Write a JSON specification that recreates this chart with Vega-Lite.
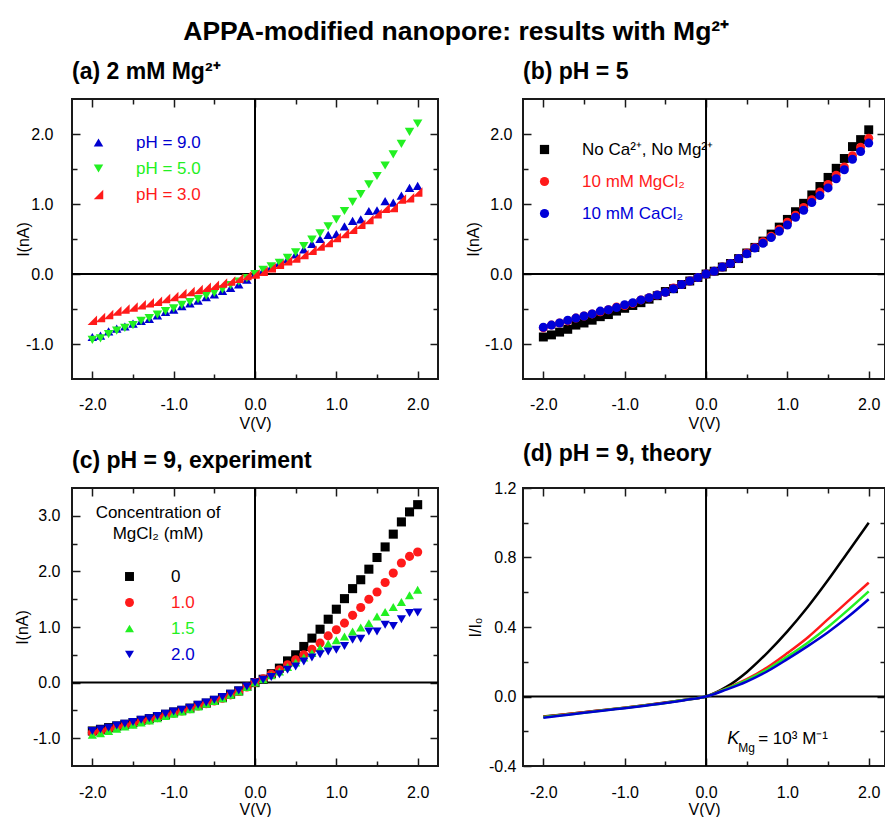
{
"$schema": "https://vega.github.io/schema/vega-lite/v6.json",
"padding": {"left": 13, "top": 18, "right": 0, "bottom": 0},
"title": {"text": "APPA-modified nanopore: results with Mg²⁺", "fontSize": 26.5, "fontWeight": "bold", "anchor": "middle", "offset": 15, "dx": 6},
"config": {
 "font": "Liberation Sans",
 "view": {"stroke": "#1a1a1a", "strokeWidth": 2},
 "axis": {"grid": false, "domain": false, "labelFontSize": 16, "labelColor": "#000", "tickColor": "#1a1a1a", "tickWidth": 1.5, "titleFontSize": 16, "titleFontWeight": "normal", "titleColor": "#000", "labelFlush": false, "labelOverlap": false},
 "legend": {"padding": 0, "labelFontSize": 17, "symbolStrokeWidth": 0, "labelLimit": 400, "orient": "none"},
 "title": {"color": "#000"}
},
"datasets": {
"a": [
{"V":-2,"I":-0.90,"s":"pH = 9.0"},{"V":-1.9,"I":-0.88,"s":"pH = 9.0"},{"V":-1.8,"I":-0.82,"s":"pH = 9.0"},{"V":-1.7,"I":-0.78,"s":"pH = 9.0"},{"V":-1.6,"I":-0.75,"s":"pH = 9.0"},{"V":-1.5,"I":-0.71,"s":"pH = 9.0"},{"V":-1.4,"I":-0.67,"s":"pH = 9.0"},{"V":-1.3,"I":-0.64,"s":"pH = 9.0"},{"V":-1.2,"I":-0.59,"s":"pH = 9.0"},{"V":-1.1,"I":-0.54,"s":"pH = 9.0"},{"V":-1,"I":-0.51,"s":"pH = 9.0"},{"V":-0.9,"I":-0.46,"s":"pH = 9.0"},{"V":-0.8,"I":-0.42,"s":"pH = 9.0"},{"V":-0.7,"I":-0.38,"s":"pH = 9.0"},{"V":-0.6,"I":-0.33,"s":"pH = 9.0"},{"V":-0.5,"I":-0.29,"s":"pH = 9.0"},{"V":-0.4,"I":-0.24,"s":"pH = 9.0"},{"V":-0.3,"I":-0.20,"s":"pH = 9.0"},{"V":-0.2,"I":-0.15,"s":"pH = 9.0"},{"V":-0.1,"I":-0.08,"s":"pH = 9.0"},{"V":0,"I":0,"s":"pH = 9.0"},{"V":0.1,"I":0.05,"s":"pH = 9.0"},{"V":0.2,"I":0.10,"s":"pH = 9.0"},{"V":0.3,"I":0.16,"s":"pH = 9.0"},{"V":0.4,"I":0.21,"s":"pH = 9.0"},{"V":0.5,"I":0.28,"s":"pH = 9.0"},{"V":0.6,"I":0.35,"s":"pH = 9.0"},{"V":0.7,"I":0.43,"s":"pH = 9.0"},{"V":0.8,"I":0.50,"s":"pH = 9.0"},{"V":0.9,"I":0.56,"s":"pH = 9.0"},{"V":1,"I":0.57,"s":"pH = 9.0"},{"V":1.1,"I":0.68,"s":"pH = 9.0"},{"V":1.2,"I":0.76,"s":"pH = 9.0"},{"V":1.3,"I":0.78,"s":"pH = 9.0"},{"V":1.4,"I":0.90,"s":"pH = 9.0"},{"V":1.5,"I":0.91,"s":"pH = 9.0"},{"V":1.6,"I":1.04,"s":"pH = 9.0"},{"V":1.7,"I":1.02,"s":"pH = 9.0"},{"V":1.8,"I":1.12,"s":"pH = 9.0"},{"V":1.9,"I":1.23,"s":"pH = 9.0"},{"V":2,"I":1.26,"s":"pH = 9.0"},
{"V":-2,"I":-0.94,"s":"pH = 5.0"},{"V":-1.9,"I":-0.92,"s":"pH = 5.0"},{"V":-1.8,"I":-0.86,"s":"pH = 5.0"},{"V":-1.7,"I":-0.81,"s":"pH = 5.0"},{"V":-1.6,"I":-0.77,"s":"pH = 5.0"},{"V":-1.5,"I":-0.73,"s":"pH = 5.0"},{"V":-1.4,"I":-0.67,"s":"pH = 5.0"},{"V":-1.3,"I":-0.63,"s":"pH = 5.0"},{"V":-1.2,"I":-0.58,"s":"pH = 5.0"},{"V":-1.1,"I":-0.53,"s":"pH = 5.0"},{"V":-1,"I":-0.49,"s":"pH = 5.0"},{"V":-0.9,"I":-0.44,"s":"pH = 5.0"},{"V":-0.8,"I":-0.40,"s":"pH = 5.0"},{"V":-0.7,"I":-0.36,"s":"pH = 5.0"},{"V":-0.6,"I":-0.31,"s":"pH = 5.0"},{"V":-0.5,"I":-0.27,"s":"pH = 5.0"},{"V":-0.4,"I":-0.22,"s":"pH = 5.0"},{"V":-0.3,"I":-0.16,"s":"pH = 5.0"},{"V":-0.2,"I":-0.11,"s":"pH = 5.0"},{"V":-0.1,"I":-0.06,"s":"pH = 5.0"},{"V":0,"I":0,"s":"pH = 5.0"},{"V":0.1,"I":0.06,"s":"pH = 5.0"},{"V":0.2,"I":0.11,"s":"pH = 5.0"},{"V":0.3,"I":0.16,"s":"pH = 5.0"},{"V":0.4,"I":0.23,"s":"pH = 5.0"},{"V":0.5,"I":0.31,"s":"pH = 5.0"},{"V":0.6,"I":0.40,"s":"pH = 5.0"},{"V":0.7,"I":0.49,"s":"pH = 5.0"},{"V":0.8,"I":0.58,"s":"pH = 5.0"},{"V":0.9,"I":0.68,"s":"pH = 5.0"},{"V":1,"I":0.78,"s":"pH = 5.0"},{"V":1.1,"I":0.90,"s":"pH = 5.0"},{"V":1.2,"I":1.03,"s":"pH = 5.0"},{"V":1.3,"I":1.14,"s":"pH = 5.0"},{"V":1.4,"I":1.28,"s":"pH = 5.0"},{"V":1.5,"I":1.40,"s":"pH = 5.0"},{"V":1.6,"I":1.55,"s":"pH = 5.0"},{"V":1.7,"I":1.71,"s":"pH = 5.0"},{"V":1.8,"I":1.86,"s":"pH = 5.0"},{"V":1.9,"I":2.03,"s":"pH = 5.0"},{"V":2,"I":2.15,"s":"pH = 5.0"},
{"V":-2,"I":-0.66,"s":"pH = 3.0"},{"V":-1.9,"I":-0.62,"s":"pH = 3.0"},{"V":-1.8,"I":-0.58,"s":"pH = 3.0"},{"V":-1.7,"I":-0.53,"s":"pH = 3.0"},{"V":-1.6,"I":-0.50,"s":"pH = 3.0"},{"V":-1.5,"I":-0.47,"s":"pH = 3.0"},{"V":-1.4,"I":-0.44,"s":"pH = 3.0"},{"V":-1.3,"I":-0.41,"s":"pH = 3.0"},{"V":-1.2,"I":-0.39,"s":"pH = 3.0"},{"V":-1.1,"I":-0.35,"s":"pH = 3.0"},{"V":-1,"I":-0.32,"s":"pH = 3.0"},{"V":-0.9,"I":-0.28,"s":"pH = 3.0"},{"V":-0.8,"I":-0.25,"s":"pH = 3.0"},{"V":-0.7,"I":-0.22,"s":"pH = 3.0"},{"V":-0.6,"I":-0.19,"s":"pH = 3.0"},{"V":-0.5,"I":-0.16,"s":"pH = 3.0"},{"V":-0.4,"I":-0.13,"s":"pH = 3.0"},{"V":-0.3,"I":-0.10,"s":"pH = 3.0"},{"V":-0.2,"I":-0.06,"s":"pH = 3.0"},{"V":-0.1,"I":-0.02,"s":"pH = 3.0"},{"V":0,"I":0,"s":"pH = 3.0"},{"V":0.1,"I":0.04,"s":"pH = 3.0"},{"V":0.2,"I":0.09,"s":"pH = 3.0"},{"V":0.3,"I":0.14,"s":"pH = 3.0"},{"V":0.4,"I":0.19,"s":"pH = 3.0"},{"V":0.5,"I":0.23,"s":"pH = 3.0"},{"V":0.6,"I":0.28,"s":"pH = 3.0"},{"V":0.7,"I":0.34,"s":"pH = 3.0"},{"V":0.8,"I":0.40,"s":"pH = 3.0"},{"V":0.9,"I":0.45,"s":"pH = 3.0"},{"V":1,"I":0.52,"s":"pH = 3.0"},{"V":1.1,"I":0.58,"s":"pH = 3.0"},{"V":1.2,"I":0.64,"s":"pH = 3.0"},{"V":1.3,"I":0.71,"s":"pH = 3.0"},{"V":1.4,"I":0.78,"s":"pH = 3.0"},{"V":1.5,"I":0.86,"s":"pH = 3.0"},{"V":1.6,"I":0.94,"s":"pH = 3.0"},{"V":1.7,"I":0.95,"s":"pH = 3.0"},{"V":1.8,"I":1.07,"s":"pH = 3.0"},{"V":1.9,"I":1.09,"s":"pH = 3.0"},{"V":2,"I":1.17,"s":"pH = 3.0"}
],
"b": [
{"V":-2,"I":-0.90,"s":"No Ca²⁺, No Mg²⁺"},{"V":-1.9,"I":-0.87,"s":"No Ca²⁺, No Mg²⁺"},{"V":-1.8,"I":-0.83,"s":"No Ca²⁺, No Mg²⁺"},{"V":-1.7,"I":-0.79,"s":"No Ca²⁺, No Mg²⁺"},{"V":-1.6,"I":-0.73,"s":"No Ca²⁺, No Mg²⁺"},{"V":-1.5,"I":-0.70,"s":"No Ca²⁺, No Mg²⁺"},{"V":-1.4,"I":-0.66,"s":"No Ca²⁺, No Mg²⁺"},{"V":-1.3,"I":-0.61,"s":"No Ca²⁺, No Mg²⁺"},{"V":-1.2,"I":-0.58,"s":"No Ca²⁺, No Mg²⁺"},{"V":-1.1,"I":-0.53,"s":"No Ca²⁺, No Mg²⁺"},{"V":-1,"I":-0.49,"s":"No Ca²⁺, No Mg²⁺"},{"V":-0.9,"I":-0.45,"s":"No Ca²⁺, No Mg²⁺"},{"V":-0.8,"I":-0.41,"s":"No Ca²⁺, No Mg²⁺"},{"V":-0.7,"I":-0.36,"s":"No Ca²⁺, No Mg²⁺"},{"V":-0.6,"I":-0.31,"s":"No Ca²⁺, No Mg²⁺"},{"V":-0.5,"I":-0.25,"s":"No Ca²⁺, No Mg²⁺"},{"V":-0.4,"I":-0.21,"s":"No Ca²⁺, No Mg²⁺"},{"V":-0.3,"I":-0.15,"s":"No Ca²⁺, No Mg²⁺"},{"V":-0.2,"I":-0.10,"s":"No Ca²⁺, No Mg²⁺"},{"V":-0.1,"I":-0.05,"s":"No Ca²⁺, No Mg²⁺"},{"V":0,"I":0,"s":"No Ca²⁺, No Mg²⁺"},{"V":0.1,"I":0.04,"s":"No Ca²⁺, No Mg²⁺"},{"V":0.2,"I":0.10,"s":"No Ca²⁺, No Mg²⁺"},{"V":0.3,"I":0.15,"s":"No Ca²⁺, No Mg²⁺"},{"V":0.4,"I":0.22,"s":"No Ca²⁺, No Mg²⁺"},{"V":0.5,"I":0.30,"s":"No Ca²⁺, No Mg²⁺"},{"V":0.6,"I":0.38,"s":"No Ca²⁺, No Mg²⁺"},{"V":0.7,"I":0.47,"s":"No Ca²⁺, No Mg²⁺"},{"V":0.8,"I":0.57,"s":"No Ca²⁺, No Mg²⁺"},{"V":0.9,"I":0.67,"s":"No Ca²⁺, No Mg²⁺"},{"V":1,"I":0.78,"s":"No Ca²⁺, No Mg²⁺"},{"V":1.1,"I":0.89,"s":"No Ca²⁺, No Mg²⁺"},{"V":1.2,"I":1.01,"s":"No Ca²⁺, No Mg²⁺"},{"V":1.3,"I":1.13,"s":"No Ca²⁺, No Mg²⁺"},{"V":1.4,"I":1.25,"s":"No Ca²⁺, No Mg²⁺"},{"V":1.5,"I":1.38,"s":"No Ca²⁺, No Mg²⁺"},{"V":1.6,"I":1.51,"s":"No Ca²⁺, No Mg²⁺"},{"V":1.7,"I":1.65,"s":"No Ca²⁺, No Mg²⁺"},{"V":1.8,"I":1.82,"s":"No Ca²⁺, No Mg²⁺"},{"V":1.9,"I":1.92,"s":"No Ca²⁺, No Mg²⁺"},{"V":2,"I":2.06,"s":"No Ca²⁺, No Mg²⁺"},
{"V":-2,"I":-0.77,"s":"10 mM MgCl₂"},{"V":-1.9,"I":-0.73,"s":"10 mM MgCl₂"},{"V":-1.8,"I":-0.70,"s":"10 mM MgCl₂"},{"V":-1.7,"I":-0.67,"s":"10 mM MgCl₂"},{"V":-1.6,"I":-0.63,"s":"10 mM MgCl₂"},{"V":-1.5,"I":-0.60,"s":"10 mM MgCl₂"},{"V":-1.4,"I":-0.57,"s":"10 mM MgCl₂"},{"V":-1.3,"I":-0.54,"s":"10 mM MgCl₂"},{"V":-1.2,"I":-0.51,"s":"10 mM MgCl₂"},{"V":-1.1,"I":-0.47,"s":"10 mM MgCl₂"},{"V":-1,"I":-0.45,"s":"10 mM MgCl₂"},{"V":-0.9,"I":-0.42,"s":"10 mM MgCl₂"},{"V":-0.8,"I":-0.37,"s":"10 mM MgCl₂"},{"V":-0.7,"I":-0.34,"s":"10 mM MgCl₂"},{"V":-0.6,"I":-0.30,"s":"10 mM MgCl₂"},{"V":-0.5,"I":-0.26,"s":"10 mM MgCl₂"},{"V":-0.4,"I":-0.20,"s":"10 mM MgCl₂"},{"V":-0.3,"I":-0.15,"s":"10 mM MgCl₂"},{"V":-0.2,"I":-0.10,"s":"10 mM MgCl₂"},{"V":-0.1,"I":-0.05,"s":"10 mM MgCl₂"},{"V":0,"I":0,"s":"10 mM MgCl₂"},{"V":0.1,"I":0.04,"s":"10 mM MgCl₂"},{"V":0.2,"I":0.10,"s":"10 mM MgCl₂"},{"V":0.3,"I":0.15,"s":"10 mM MgCl₂"},{"V":0.4,"I":0.22,"s":"10 mM MgCl₂"},{"V":0.5,"I":0.30,"s":"10 mM MgCl₂"},{"V":0.6,"I":0.38,"s":"10 mM MgCl₂"},{"V":0.7,"I":0.46,"s":"10 mM MgCl₂"},{"V":0.8,"I":0.54,"s":"10 mM MgCl₂"},{"V":0.9,"I":0.64,"s":"10 mM MgCl₂"},{"V":1,"I":0.74,"s":"10 mM MgCl₂"},{"V":1.1,"I":0.84,"s":"10 mM MgCl₂"},{"V":1.2,"I":0.95,"s":"10 mM MgCl₂"},{"V":1.3,"I":1.06,"s":"10 mM MgCl₂"},{"V":1.4,"I":1.17,"s":"10 mM MgCl₂"},{"V":1.5,"I":1.28,"s":"10 mM MgCl₂"},{"V":1.6,"I":1.41,"s":"10 mM MgCl₂"},{"V":1.7,"I":1.53,"s":"10 mM MgCl₂"},{"V":1.8,"I":1.69,"s":"10 mM MgCl₂"},{"V":1.9,"I":1.81,"s":"10 mM MgCl₂"},{"V":2,"I":1.94,"s":"10 mM MgCl₂"},
{"V":-2,"I":-0.76,"s":"10 mM CaCl₂"},{"V":-1.9,"I":-0.73,"s":"10 mM CaCl₂"},{"V":-1.8,"I":-0.70,"s":"10 mM CaCl₂"},{"V":-1.7,"I":-0.66,"s":"10 mM CaCl₂"},{"V":-1.6,"I":-0.63,"s":"10 mM CaCl₂"},{"V":-1.5,"I":-0.60,"s":"10 mM CaCl₂"},{"V":-1.4,"I":-0.57,"s":"10 mM CaCl₂"},{"V":-1.3,"I":-0.53,"s":"10 mM CaCl₂"},{"V":-1.2,"I":-0.51,"s":"10 mM CaCl₂"},{"V":-1.1,"I":-0.48,"s":"10 mM CaCl₂"},{"V":-1,"I":-0.44,"s":"10 mM CaCl₂"},{"V":-0.9,"I":-0.41,"s":"10 mM CaCl₂"},{"V":-0.8,"I":-0.37,"s":"10 mM CaCl₂"},{"V":-0.7,"I":-0.34,"s":"10 mM CaCl₂"},{"V":-0.6,"I":-0.30,"s":"10 mM CaCl₂"},{"V":-0.5,"I":-0.26,"s":"10 mM CaCl₂"},{"V":-0.4,"I":-0.21,"s":"10 mM CaCl₂"},{"V":-0.3,"I":-0.15,"s":"10 mM CaCl₂"},{"V":-0.2,"I":-0.10,"s":"10 mM CaCl₂"},{"V":-0.1,"I":-0.05,"s":"10 mM CaCl₂"},{"V":0,"I":0,"s":"10 mM CaCl₂"},{"V":0.1,"I":0.04,"s":"10 mM CaCl₂"},{"V":0.2,"I":0.10,"s":"10 mM CaCl₂"},{"V":0.3,"I":0.15,"s":"10 mM CaCl₂"},{"V":0.4,"I":0.22,"s":"10 mM CaCl₂"},{"V":0.5,"I":0.29,"s":"10 mM CaCl₂"},{"V":0.6,"I":0.37,"s":"10 mM CaCl₂"},{"V":0.7,"I":0.44,"s":"10 mM CaCl₂"},{"V":0.8,"I":0.52,"s":"10 mM CaCl₂"},{"V":0.9,"I":0.61,"s":"10 mM CaCl₂"},{"V":1,"I":0.70,"s":"10 mM CaCl₂"},{"V":1.1,"I":0.81,"s":"10 mM CaCl₂"},{"V":1.2,"I":0.91,"s":"10 mM CaCl₂"},{"V":1.3,"I":1.02,"s":"10 mM CaCl₂"},{"V":1.4,"I":1.12,"s":"10 mM CaCl₂"},{"V":1.5,"I":1.23,"s":"10 mM CaCl₂"},{"V":1.6,"I":1.36,"s":"10 mM CaCl₂"},{"V":1.7,"I":1.49,"s":"10 mM CaCl₂"},{"V":1.8,"I":1.64,"s":"10 mM CaCl₂"},{"V":1.9,"I":1.75,"s":"10 mM CaCl₂"},{"V":2,"I":1.87,"s":"10 mM CaCl₂"}
],
"c": [
{"V":-2,"I":-0.87,"s":"0"},{"V":-1.9,"I":-0.84,"s":"0"},{"V":-1.8,"I":-0.81,"s":"0"},{"V":-1.7,"I":-0.78,"s":"0"},{"V":-1.6,"I":-0.75,"s":"0"},{"V":-1.5,"I":-0.72,"s":"0"},{"V":-1.4,"I":-0.68,"s":"0"},{"V":-1.3,"I":-0.65,"s":"0"},{"V":-1.2,"I":-0.61,"s":"0"},{"V":-1.1,"I":-0.57,"s":"0"},{"V":-1,"I":-0.53,"s":"0"},{"V":-0.9,"I":-0.50,"s":"0"},{"V":-0.8,"I":-0.46,"s":"0"},{"V":-0.7,"I":-0.41,"s":"0"},{"V":-0.6,"I":-0.37,"s":"0"},{"V":-0.5,"I":-0.32,"s":"0"},{"V":-0.4,"I":-0.27,"s":"0"},{"V":-0.3,"I":-0.21,"s":"0"},{"V":-0.2,"I":-0.15,"s":"0"},{"V":-0.1,"I":-0.07,"s":"0"},{"V":0,"I":0,"s":"0"},{"V":0.1,"I":0.06,"s":"0"},{"V":0.2,"I":0.16,"s":"0"},{"V":0.3,"I":0.26,"s":"0"},{"V":0.4,"I":0.39,"s":"0"},{"V":0.5,"I":0.50,"s":"0"},{"V":0.6,"I":0.65,"s":"0"},{"V":0.7,"I":0.80,"s":"0"},{"V":0.8,"I":0.96,"s":"0"},{"V":0.9,"I":1.14,"s":"0"},{"V":1,"I":1.32,"s":"0"},{"V":1.1,"I":1.51,"s":"0"},{"V":1.2,"I":1.69,"s":"0"},{"V":1.3,"I":1.85,"s":"0"},{"V":1.4,"I":2.04,"s":"0"},{"V":1.5,"I":2.25,"s":"0"},{"V":1.6,"I":2.44,"s":"0"},{"V":1.7,"I":2.67,"s":"0"},{"V":1.8,"I":2.89,"s":"0"},{"V":1.9,"I":3.07,"s":"0"},{"V":2,"I":3.20,"s":"0"},
{"V":-2,"I":-0.90,"s":"1.0"},{"V":-1.9,"I":-0.87,"s":"1.0"},{"V":-1.8,"I":-0.84,"s":"1.0"},{"V":-1.7,"I":-0.80,"s":"1.0"},{"V":-1.6,"I":-0.77,"s":"1.0"},{"V":-1.5,"I":-0.74,"s":"1.0"},{"V":-1.4,"I":-0.70,"s":"1.0"},{"V":-1.3,"I":-0.67,"s":"1.0"},{"V":-1.2,"I":-0.63,"s":"1.0"},{"V":-1.1,"I":-0.59,"s":"1.0"},{"V":-1,"I":-0.55,"s":"1.0"},{"V":-0.9,"I":-0.51,"s":"1.0"},{"V":-0.8,"I":-0.47,"s":"1.0"},{"V":-0.7,"I":-0.42,"s":"1.0"},{"V":-0.6,"I":-0.38,"s":"1.0"},{"V":-0.5,"I":-0.33,"s":"1.0"},{"V":-0.4,"I":-0.28,"s":"1.0"},{"V":-0.3,"I":-0.22,"s":"1.0"},{"V":-0.2,"I":-0.16,"s":"1.0"},{"V":-0.1,"I":-0.08,"s":"1.0"},{"V":0,"I":0,"s":"1.0"},{"V":0.1,"I":0.07,"s":"1.0"},{"V":0.2,"I":0.15,"s":"1.0"},{"V":0.3,"I":0.23,"s":"1.0"},{"V":0.4,"I":0.32,"s":"1.0"},{"V":0.5,"I":0.41,"s":"1.0"},{"V":0.6,"I":0.50,"s":"1.0"},{"V":0.7,"I":0.60,"s":"1.0"},{"V":0.8,"I":0.71,"s":"1.0"},{"V":0.9,"I":0.84,"s":"1.0"},{"V":1,"I":0.95,"s":"1.0"},{"V":1.1,"I":1.07,"s":"1.0"},{"V":1.2,"I":1.21,"s":"1.0"},{"V":1.3,"I":1.35,"s":"1.0"},{"V":1.4,"I":1.50,"s":"1.0"},{"V":1.5,"I":1.63,"s":"1.0"},{"V":1.6,"I":1.80,"s":"1.0"},{"V":1.7,"I":1.97,"s":"1.0"},{"V":1.8,"I":2.15,"s":"1.0"},{"V":1.9,"I":2.27,"s":"1.0"},{"V":2,"I":2.35,"s":"1.0"},
{"V":-2,"I":-0.94,"s":"1.5"},{"V":-1.9,"I":-0.91,"s":"1.5"},{"V":-1.8,"I":-0.87,"s":"1.5"},{"V":-1.7,"I":-0.83,"s":"1.5"},{"V":-1.6,"I":-0.79,"s":"1.5"},{"V":-1.5,"I":-0.76,"s":"1.5"},{"V":-1.4,"I":-0.72,"s":"1.5"},{"V":-1.3,"I":-0.68,"s":"1.5"},{"V":-1.2,"I":-0.64,"s":"1.5"},{"V":-1.1,"I":-0.60,"s":"1.5"},{"V":-1,"I":-0.56,"s":"1.5"},{"V":-0.9,"I":-0.52,"s":"1.5"},{"V":-0.8,"I":-0.48,"s":"1.5"},{"V":-0.7,"I":-0.43,"s":"1.5"},{"V":-0.6,"I":-0.38,"s":"1.5"},{"V":-0.5,"I":-0.33,"s":"1.5"},{"V":-0.4,"I":-0.28,"s":"1.5"},{"V":-0.3,"I":-0.22,"s":"1.5"},{"V":-0.2,"I":-0.16,"s":"1.5"},{"V":-0.1,"I":-0.08,"s":"1.5"},{"V":0,"I":0,"s":"1.5"},{"V":0.1,"I":0.06,"s":"1.5"},{"V":0.2,"I":0.13,"s":"1.5"},{"V":0.3,"I":0.20,"s":"1.5"},{"V":0.4,"I":0.28,"s":"1.5"},{"V":0.5,"I":0.36,"s":"1.5"},{"V":0.6,"I":0.45,"s":"1.5"},{"V":0.7,"I":0.53,"s":"1.5"},{"V":0.8,"I":0.62,"s":"1.5"},{"V":0.9,"I":0.70,"s":"1.5"},{"V":1,"I":0.76,"s":"1.5"},{"V":1.1,"I":0.83,"s":"1.5"},{"V":1.2,"I":0.92,"s":"1.5"},{"V":1.3,"I":0.99,"s":"1.5"},{"V":1.4,"I":1.07,"s":"1.5"},{"V":1.5,"I":1.19,"s":"1.5"},{"V":1.6,"I":1.27,"s":"1.5"},{"V":1.7,"I":1.36,"s":"1.5"},{"V":1.8,"I":1.45,"s":"1.5"},{"V":1.9,"I":1.57,"s":"1.5"},{"V":2,"I":1.67,"s":"1.5"},
{"V":-2,"I":-0.87,"s":"2.0"},{"V":-1.9,"I":-0.84,"s":"2.0"},{"V":-1.8,"I":-0.81,"s":"2.0"},{"V":-1.7,"I":-0.77,"s":"2.0"},{"V":-1.6,"I":-0.74,"s":"2.0"},{"V":-1.5,"I":-0.71,"s":"2.0"},{"V":-1.4,"I":-0.67,"s":"2.0"},{"V":-1.3,"I":-0.64,"s":"2.0"},{"V":-1.2,"I":-0.60,"s":"2.0"},{"V":-1.1,"I":-0.56,"s":"2.0"},{"V":-1,"I":-0.52,"s":"2.0"},{"V":-0.9,"I":-0.49,"s":"2.0"},{"V":-0.8,"I":-0.45,"s":"2.0"},{"V":-0.7,"I":-0.40,"s":"2.0"},{"V":-0.6,"I":-0.36,"s":"2.0"},{"V":-0.5,"I":-0.31,"s":"2.0"},{"V":-0.4,"I":-0.26,"s":"2.0"},{"V":-0.3,"I":-0.20,"s":"2.0"},{"V":-0.2,"I":-0.14,"s":"2.0"},{"V":-0.1,"I":-0.07,"s":"2.0"},{"V":0,"I":0,"s":"2.0"},{"V":0.1,"I":0.05,"s":"2.0"},{"V":0.2,"I":0.10,"s":"2.0"},{"V":0.3,"I":0.15,"s":"2.0"},{"V":0.4,"I":0.23,"s":"2.0"},{"V":0.5,"I":0.29,"s":"2.0"},{"V":0.6,"I":0.38,"s":"2.0"},{"V":0.7,"I":0.45,"s":"2.0"},{"V":0.8,"I":0.51,"s":"2.0"},{"V":0.9,"I":0.56,"s":"2.0"},{"V":1,"I":0.59,"s":"2.0"},{"V":1.1,"I":0.66,"s":"2.0"},{"V":1.2,"I":0.77,"s":"2.0"},{"V":1.3,"I":0.79,"s":"2.0"},{"V":1.4,"I":0.92,"s":"2.0"},{"V":1.5,"I":0.92,"s":"2.0"},{"V":1.6,"I":1.04,"s":"2.0"},{"V":1.7,"I":1.02,"s":"2.0"},{"V":1.8,"I":1.14,"s":"2.0"},{"V":1.9,"I":1.25,"s":"2.0"},{"V":2,"I":1.26,"s":"2.0"}
],
"d": [
{"V":-2,"I":-0.115,"s":"0"},{"V":-1.75,"I":-0.103,"s":"0"},{"V":-1.5,"I":-0.090,"s":"0"},{"V":-1.25,"I":-0.077,"s":"0"},{"V":-1,"I":-0.064,"s":"0"},{"V":-0.75,"I":-0.050,"s":"0"},{"V":-0.5,"I":-0.035,"s":"0"},{"V":-0.25,"I":-0.018,"s":"0"},{"V":0,"I":0,"s":"0"},{"V":0.25,"I":0.055,"s":"0"},{"V":0.5,"I":0.14,"s":"0"},{"V":0.75,"I":0.25,"s":"0"},{"V":1,"I":0.375,"s":"0"},{"V":1.25,"I":0.515,"s":"0"},{"V":1.5,"I":0.67,"s":"0"},{"V":1.75,"I":0.835,"s":"0"},{"V":2,"I":1.0,"s":"0"},
{"V":-2,"I":-0.117,"s":"1.0"},{"V":-1.75,"I":-0.104,"s":"1.0"},{"V":-1.5,"I":-0.091,"s":"1.0"},{"V":-1.25,"I":-0.078,"s":"1.0"},{"V":-1,"I":-0.065,"s":"1.0"},{"V":-0.75,"I":-0.051,"s":"1.0"},{"V":-0.5,"I":-0.036,"s":"1.0"},{"V":-0.25,"I":-0.019,"s":"1.0"},{"V":0,"I":0,"s":"1.0"},{"V":0.25,"I":0.047,"s":"1.0"},{"V":0.5,"I":0.10,"s":"1.0"},{"V":0.75,"I":0.167,"s":"1.0"},{"V":1,"I":0.25,"s":"1.0"},{"V":1.25,"I":0.34,"s":"1.0"},{"V":1.5,"I":0.445,"s":"1.0"},{"V":1.75,"I":0.55,"s":"1.0"},{"V":2,"I":0.655,"s":"1.0"},
{"V":-2,"I":-0.119,"s":"1.5"},{"V":-1.75,"I":-0.106,"s":"1.5"},{"V":-1.5,"I":-0.093,"s":"1.5"},{"V":-1.25,"I":-0.079,"s":"1.5"},{"V":-1,"I":-0.066,"s":"1.5"},{"V":-0.75,"I":-0.052,"s":"1.5"},{"V":-0.5,"I":-0.037,"s":"1.5"},{"V":-0.25,"I":-0.019,"s":"1.5"},{"V":0,"I":0,"s":"1.5"},{"V":0.25,"I":0.045,"s":"1.5"},{"V":0.5,"I":0.094,"s":"1.5"},{"V":0.75,"I":0.155,"s":"1.5"},{"V":1,"I":0.23,"s":"1.5"},{"V":1.25,"I":0.31,"s":"1.5"},{"V":1.5,"I":0.40,"s":"1.5"},{"V":1.75,"I":0.50,"s":"1.5"},{"V":2,"I":0.605,"s":"1.5"},
{"V":-2,"I":-0.122,"s":"2.0"},{"V":-1.75,"I":-0.108,"s":"2.0"},{"V":-1.5,"I":-0.094,"s":"2.0"},{"V":-1.25,"I":-0.080,"s":"2.0"},{"V":-1,"I":-0.067,"s":"2.0"},{"V":-0.75,"I":-0.053,"s":"2.0"},{"V":-0.5,"I":-0.038,"s":"2.0"},{"V":-0.25,"I":-0.020,"s":"2.0"},{"V":0,"I":0,"s":"2.0"},{"V":0.25,"I":0.04,"s":"2.0"},{"V":0.5,"I":0.086,"s":"2.0"},{"V":0.75,"I":0.144,"s":"2.0"},{"V":1,"I":0.215,"s":"2.0"},{"V":1.25,"I":0.29,"s":"2.0"},{"V":1.5,"I":0.37,"s":"2.0"},{"V":1.75,"I":0.46,"s":"2.0"},{"V":2,"I":0.56,"s":"2.0"}
]
},
"resolve": {"scale": {"color": "independent", "shape": "independent"}},
"columns": 2,
"bounds": "flush",
"spacing": {"row": 109, "column": 85},
"concat": [
{
 "width": 366, "height": 280,
 "title": {"text": "(a) 2 mM Mg²⁺", "anchor": "start", "frame": "group", "fontSize": 23, "fontWeight": "bold", "offset": 14},
 "resolve": {"axis": {"x": "independent", "y": "independent"}},
 "layer": [
  {"data": {"values": [{}]}, "mark": {"type": "rule", "color": "#000", "strokeWidth": 2},
   "encoding": {"x": {"datum": 0, "type": "quantitative", "scale": {"domain": [-2.25, 2.25], "nice": false, "zero": false},
     "axis": {"orient": "top", "values": [-2,-1.5,-1,-0.5,0,0.5,1,1.5,2], "labels": false, "title": null, "tickSize": {"condition": {"test": "datum.value % 1 === 0", "value": -8}, "value": -5}}}}},
  {"data": {"values": [{}]}, "mark": {"type": "rule", "color": "#000", "strokeWidth": 2},
   "encoding": {"y": {"datum": 0, "type": "quantitative", "scale": {"domain": [-1.5, 2.5], "nice": false, "zero": false},
     "axis": {"orient": "right", "values": [-1,-0.5,0,0.5,1,1.5,2], "labels": false, "title": null, "tickSize": {"condition": {"test": "datum.value % 1 === 0", "value": -8}, "value": -5}}}}},
  {"data": {"name": "a"}, "mark": {"type": "point", "filled": true, "opacity": 1, "size": 90},
   "encoding": {
    "x": {"field": "V", "type": "quantitative", "scale": {"domain": [-2.25, 2.25], "nice": false, "zero": false},
      "axis": {"orient": "bottom", "values": [-2,-1.5,-1,-0.5,0,0.5,1,1.5,2], "labelExpr": "datum.value % 1 === 0 ? replace(format(datum.value, '.1f'), '−', '-') : ''", "tickSize": {"condition": {"test": "datum.value % 1 === 0", "value": -8}, "value": -5}, "labelPadding": 25, "title": "V(V)", "titlePadding": 0}},
    "y": {"field": "I", "type": "quantitative", "scale": {"domain": [-1.5, 2.5], "nice": false, "zero": false},
      "axis": {"orient": "left", "values": [-1,-0.5,0,0.5,1,1.5,2], "labelExpr": "datum.value % 1 === 0 ? replace(format(datum.value, '.1f'), '−', '-') : ''", "tickSize": {"condition": {"test": "datum.value % 1 === 0", "value": -8}, "value": -5}, "labelPadding": 27, "title": "I(nA)", "titlePadding": -6}},
    "color": {"field": "s", "type": "nominal", "scale": {"domain": ["pH = 9.0", "pH = 5.0", "pH = 3.0"], "range": ["#0000d0", "#22f022", "#ff1a1a"]},
      "legend": {"title": null, "legendX": 18, "legendY": 35, "labelOffset": 29, "rowPadding": 8, "symbolSize": 90,
        "labelColor": {"expr": "datum.value === 'pH = 9.0' ? '#0000d0' : datum.value === 'pH = 5.0' ? '#22f022' : '#ff1a1a'"}}},
    "shape": {"field": "s", "type": "nominal", "scale": {"domain": ["pH = 9.0", "pH = 5.0", "pH = 3.0"], "range": ["triangle-up", "triangle-down", "M1,-1L1,1L-1,1Z"]},
      "legend": {"title": null, "legendX": 18, "legendY": 35, "labelOffset": 29, "rowPadding": 8, "symbolSize": 90,
        "labelColor": {"expr": "datum.value === 'pH = 9.0' ? '#0000d0' : datum.value === 'pH = 5.0' ? '#22f022' : '#ff1a1a'"}}}
   }}
 ]
},
{
 "width": 362, "height": 280,
 "title": {"text": "(b) pH = 5", "anchor": "start", "frame": "group", "fontSize": 23, "fontWeight": "bold", "offset": 14},
 "resolve": {"axis": {"x": "independent", "y": "independent"}},
 "layer": [
  {"data": {"values": [{}]}, "mark": {"type": "rule", "color": "#000", "strokeWidth": 2},
   "encoding": {"x": {"datum": 0, "type": "quantitative", "scale": {"domain": [-2.25, 2.2], "nice": false, "zero": false},
     "axis": {"orient": "top", "values": [-2,-1.5,-1,-0.5,0,0.5,1,1.5,2], "labels": false, "title": null, "tickSize": {"condition": {"test": "datum.value % 1 === 0", "value": -8}, "value": -5}}}}},
  {"data": {"values": [{}]}, "mark": {"type": "rule", "color": "#000", "strokeWidth": 2},
   "encoding": {"y": {"datum": 0, "type": "quantitative", "scale": {"domain": [-1.5, 2.5], "nice": false, "zero": false},
     "axis": {"orient": "right", "values": [-1,-0.5,0,0.5,1,1.5,2], "labels": false, "title": null, "tickSize": {"condition": {"test": "datum.value % 1 === 0", "value": -8}, "value": -5}}}}},
  {"data": {"name": "b"}, "mark": {"type": "point", "filled": true, "opacity": 1},
   "encoding": {
    "x": {"field": "V", "type": "quantitative", "scale": {"domain": [-2.25, 2.2], "nice": false, "zero": false},
      "axis": {"orient": "bottom", "values": [-2,-1.5,-1,-0.5,0,0.5,1,1.5,2], "labelExpr": "datum.value % 1 === 0 ? replace(format(datum.value, '.1f'), '−', '-') : ''", "tickSize": {"condition": {"test": "datum.value % 1 === 0", "value": -8}, "value": -5}, "labelPadding": 25, "title": "V(V)", "titlePadding": 0}},
    "y": {"field": "I", "type": "quantitative", "scale": {"domain": [-1.5, 2.5], "nice": false, "zero": false},
      "axis": {"orient": "left", "values": [-1,-0.5,0,0.5,1,1.5,2], "labelExpr": "datum.value % 1 === 0 ? replace(format(datum.value, '.1f'), '−', '-') : ''", "tickSize": {"condition": {"test": "datum.value % 1 === 0", "value": -8}, "value": -5}, "labelPadding": 19, "title": "I(nA)", "titlePadding": 3}},
    "size": {"field": "s", "type": "nominal", "scale": {"domain": ["No Ca²⁺, No Mg²⁺", "10 mM MgCl₂", "10 mM CaCl₂"], "range": [80, 85, 85]}, "legend": null},
    "color": {"field": "s", "type": "nominal", "scale": {"domain": ["No Ca²⁺, No Mg²⁺", "10 mM MgCl₂", "10 mM CaCl₂"], "range": ["#000000", "#ff1a1a", "#0000d8"]},
      "legend": {"title": null, "legendX": 13, "legendY": 42, "labelOffset": 29, "rowPadding": 14, "symbolSize": 85,
        "labelColor": {"expr": "datum.value === '10 mM MgCl₂' ? '#ff1a1a' : datum.value === '10 mM CaCl₂' ? '#0000d8' : '#000000'"}}},
    "shape": {"field": "s", "type": "nominal", "scale": {"domain": ["No Ca²⁺, No Mg²⁺", "10 mM MgCl₂", "10 mM CaCl₂"], "range": ["square", "circle", "circle"]},
      "legend": {"title": null, "legendX": 13, "legendY": 42, "labelOffset": 29, "rowPadding": 14, "symbolSize": 85,
        "labelColor": {"expr": "datum.value === '10 mM MgCl₂' ? '#ff1a1a' : datum.value === '10 mM CaCl₂' ? '#0000d8' : '#000000'"}}}
   }}
 ]
},
{
 "width": 366, "height": 278,
 "title": {"text": "(c) pH = 9, experiment", "anchor": "start", "frame": "group", "fontSize": 23, "fontWeight": "bold", "offset": 14},
 "resolve": {"axis": {"x": "independent", "y": "independent"}},
 "layer": [
  {"data": {"values": [{}]}, "mark": {"type": "rule", "color": "#000", "strokeWidth": 2},
   "encoding": {"x": {"datum": 0, "type": "quantitative", "scale": {"domain": [-2.25, 2.25], "nice": false, "zero": false},
     "axis": {"orient": "top", "values": [-2,-1.5,-1,-0.5,0,0.5,1,1.5,2], "labels": false, "title": null, "tickSize": {"condition": {"test": "datum.value % 1 === 0", "value": -8}, "value": -5}}}}},
  {"data": {"values": [{}]}, "mark": {"type": "rule", "color": "#000", "strokeWidth": 2},
   "encoding": {"y": {"datum": 0, "type": "quantitative", "scale": {"domain": [-1.5, 3.5], "nice": false, "zero": false},
     "axis": {"orient": "right", "values": [-1,-0.5,0,0.5,1,1.5,2,2.5,3], "labels": false, "title": null, "tickSize": {"condition": {"test": "datum.value % 1 === 0", "value": -8}, "value": -5}}}}},
  {"data": {"name": "c"}, "mark": {"type": "point", "filled": true, "opacity": 1},
   "encoding": {
    "x": {"field": "V", "type": "quantitative", "scale": {"domain": [-2.25, 2.25], "nice": false, "zero": false},
      "axis": {"orient": "bottom", "values": [-2,-1.5,-1,-0.5,0,0.5,1,1.5,2], "labelExpr": "datum.value % 1 === 0 ? replace(format(datum.value, '.1f'), '−', '-') : ''", "tickSize": {"condition": {"test": "datum.value % 1 === 0", "value": -8}, "value": -5}, "labelPadding": 26, "title": "V(V)", "titlePadding": -2}},
    "y": {"field": "I", "type": "quantitative", "scale": {"domain": [-1.5, 3.5], "nice": false, "zero": false},
      "axis": {"orient": "left", "values": [-1,-0.5,0,0.5,1,1.5,2,2.5,3], "labelExpr": "datum.value % 1 === 0 ? replace(format(datum.value, '.1f'), '−', '-') : ''", "tickSize": {"condition": {"test": "datum.value % 1 === 0", "value": -8}, "value": -5}, "labelPadding": 20, "title": "I(nA)", "titlePadding": 2}},
    "size": {"field": "s", "type": "nominal", "scale": {"domain": ["0", "1.0", "1.5", "2.0"], "range": [75, 81, 85, 85]}, "legend": null},
    "color": {"field": "s", "type": "nominal", "scale": {"domain": ["0", "1.0", "1.5", "2.0"], "range": ["#000000", "#ff1a1a", "#22f022", "#0000d0"]},
      "legend": {"title": ["Concentration of", "MgCl₂ (mM)"], "titleFontSize": 17, "titleFontWeight": "normal", "titleLineHeight": 21, "titleAnchor": "middle", "titleAlign": "center", "titlePadding": 25, "titleColor": "#000",
        "legendX": 24, "legendY": 17, "symbolOffset": 0, "labelOffset": 33, "rowPadding": 8, "symbolSize": 80,
        "labelColor": {"expr": "datum.value === '1.0' ? '#ff1a1a' : datum.value === '1.5' ? '#22f022' : datum.value === '2.0' ? '#0000d0' : '#000000'"}}},
    "shape": {"field": "s", "type": "nominal", "scale": {"domain": ["0", "1.0", "1.5", "2.0"], "range": ["square", "circle", "triangle-up", "triangle-down"]},
      "legend": {"title": ["Concentration of", "MgCl₂ (mM)"], "titleFontSize": 17, "titleFontWeight": "normal", "titleLineHeight": 21, "titleAnchor": "middle", "titleAlign": "center", "titlePadding": 25, "titleColor": "#000",
        "legendX": 24, "legendY": 17, "symbolOffset": 0, "labelOffset": 33, "rowPadding": 8, "symbolSize": 80,
        "labelColor": {"expr": "datum.value === '1.0' ? '#ff1a1a' : datum.value === '1.5' ? '#22f022' : datum.value === '2.0' ? '#0000d0' : '#000000'"}}}
   }}
 ]
},
{
 "width": 362, "height": 278,
 "title": {"text": "(d) pH = 9, theory", "anchor": "start", "frame": "group", "fontSize": 23, "fontWeight": "bold", "offset": 14},
 "resolve": {"axis": {"x": "independent", "y": "independent"}},
 "layer": [
  {"data": {"values": [{}]}, "mark": {"type": "rule", "color": "#000", "strokeWidth": 2},
   "encoding": {"x": {"datum": 0, "type": "quantitative", "scale": {"domain": [-2.25, 2.2], "nice": false, "zero": false},
     "axis": {"orient": "top", "values": [-2,-1.5,-1,-0.5,0,0.5,1,1.5,2], "labels": false, "title": null, "tickSize": {"condition": {"test": "datum.value % 1 === 0", "value": -8}, "value": -5}}}}},
  {"data": {"values": [{}]}, "mark": {"type": "rule", "color": "#000", "strokeWidth": 2},
   "encoding": {"y": {"datum": 0, "type": "quantitative", "scale": {"domain": [-0.4, 1.2], "nice": false, "zero": false},
     "axis": {"orient": "right", "values": [-0.2,0,0.2,0.4,0.6,0.8,1.0], "labels": false, "title": null, "tickSize": {"condition": {"test": "abs(round(datum.value*10)) % 4 === 0", "value": -8}, "value": -5}}}}},
  {"data": {"name": "d"}, "mark": {"type": "line", "strokeWidth": 2.5, "interpolate": "monotone"},
   "encoding": {
    "x": {"field": "V", "type": "quantitative", "scale": {"domain": [-2.25, 2.2], "nice": false, "zero": false},
      "axis": {"orient": "bottom", "values": [-2,-1.5,-1,-0.5,0,0.5,1,1.5,2], "labelExpr": "datum.value % 1 === 0 ? replace(format(datum.value, '.1f'), '−', '-') : ''", "tickSize": {"condition": {"test": "datum.value % 1 === 0", "value": -8}, "value": -5}, "labelPadding": 26, "title": "V(V)", "titlePadding": -2}},
    "y": {"field": "I", "type": "quantitative", "scale": {"domain": [-0.4, 1.2], "nice": false, "zero": false},
      "axis": {"orient": "left", "values": [-0.4,-0.2,0,0.2,0.4,0.6,0.8,1.0,1.2], "labelExpr": "abs(round(datum.value*10)) % 4 === 0 ? replace(format(datum.value, '.1f'), '−', '-') : ''", "tickSize": {"condition": {"test": "abs(round(datum.value*10)) % 4 === 0", "value": -8}, "value": -5}, "labelPadding": 15, "title": "I/I₀", "titlePadding": 5}},
    "color": {"field": "s", "type": "nominal", "scale": {"domain": ["0", "1.0", "1.5", "2.0"], "range": ["#000000", "#ff1a1a", "#22f022", "#0000d0"]}, "legend": null}
   }},
  {"data": {"values": [{}]}, "mark": {"type": "text", "text": "K", "fontStyle": "italic", "fontSize": 18, "align": "left", "baseline": "alphabetic", "color": "#000"},
   "encoding": {"x": {"datum": 0.26, "type": "quantitative", "axis": null}, "y": {"datum": -0.274, "type": "quantitative", "axis": null}}},
  {"data": {"values": [{}]}, "mark": {"type": "text", "text": "Mg", "fontSize": 12, "align": "left", "baseline": "alphabetic", "dx": 11, "dy": 8, "color": "#000"},
   "encoding": {"x": {"datum": 0.26, "type": "quantitative", "axis": null}, "y": {"datum": -0.274, "type": "quantitative", "axis": null}}},
  {"data": {"values": [{}]}, "mark": {"type": "text", "text": "= 10³ M⁻¹", "fontSize": 17, "align": "left", "baseline": "alphabetic", "dx": 31, "color": "#000"},
   "encoding": {"x": {"datum": 0.26, "type": "quantitative", "axis": null}, "y": {"datum": -0.274, "type": "quantitative", "axis": null}}}
 ]
}
]
}
